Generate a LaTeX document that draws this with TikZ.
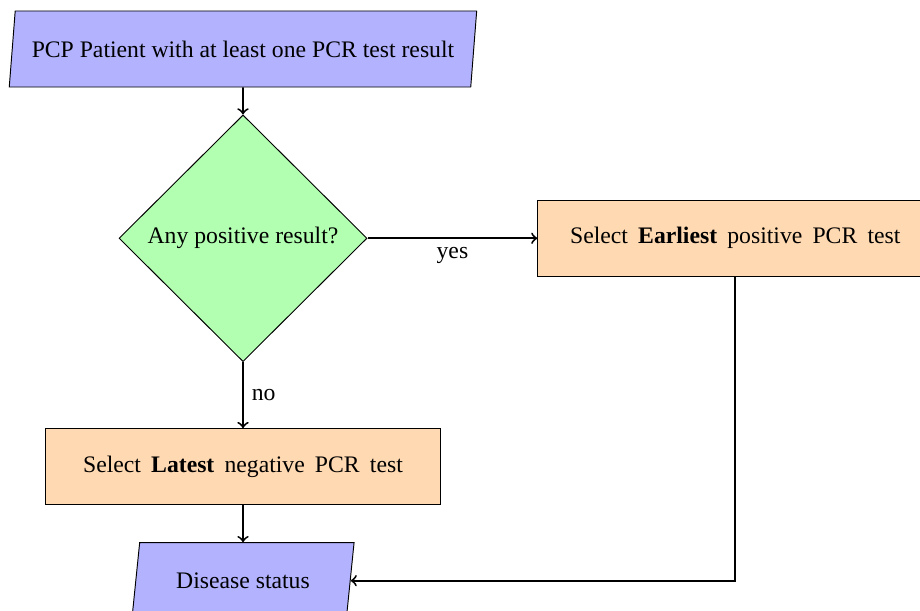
\documentclass[tikz,border=0pt]{standalone}
\usepackage{fontspec}
\setmainfont{Liberation Serif}
\usetikzlibrary{positioning,shapes.geometric}
\newcommand{\widespace}{\spaceskip=4.3pt\relax}

\begin{document}
\begin{tikzpicture}[
    io/.style={draw, trapezium, trapezium left angle=80, trapezium right angle=100, trapezium stretches=true, fill=blue!30, minimum height=1.128cm},
    decision/.style={draw, diamond, aspect=1, fill=green!30, minimum width=3.68cm, minimum height=3.66cm, inner sep=0pt},
    process/.style={draw, rectangle, fill=orange!30, minimum width=5.86cm, minimum height=1.128cm, font=\widespace},
    flow/.style={->, thick}
]
    \useasboundingbox (0,0) rectangle (13.65,-9.065);

    \node [io, minimum width=6.94cm] (patient) at (3.605,-0.727) {PCP Patient with at least one PCR test result};
    \node [decision, below=0.4cm of patient] (anypos) {Any positive result?};
    \node [process, right=2.52cm of anypos] (earliest) {Select \textbf{Earliest} positive PCR test};
    \node [process, below=0.98cm of anypos] (latest) {Select \textbf{Latest} negative PCR test};
    \node [io, minimum width=3.31cm, below=0.55cm of latest] (status) {Disease status};

    \draw[flow] (patient) -- (anypos);
    \draw[flow] (anypos) -- node[below] {yes} (earliest);
    \draw[flow] (anypos) -- node[right] {no} (latest);
    \draw[flow] (latest) -- (status);
    \draw[flow] (earliest) |- (status);
\end{tikzpicture}
\end{document}
